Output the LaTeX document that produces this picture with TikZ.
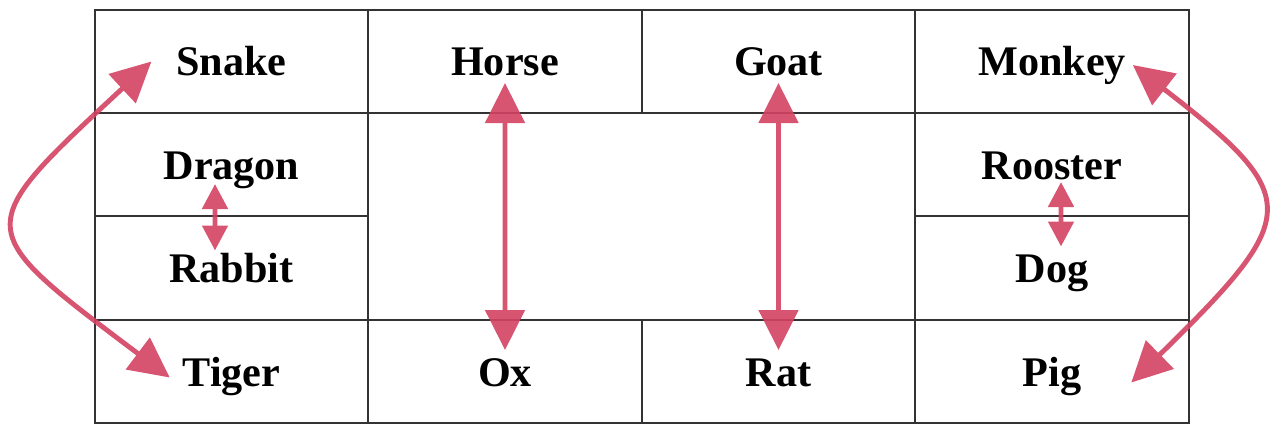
\documentclass[tikz,border=0pt]{standalone}
\usepackage{fontspec}
\setmainfont{Liberation Serif}
\usetikzlibrary{arrows.meta}
\definecolor{zodiacpink}{RGB}{212,66,99}
\tikzset{
	animal/.style={font=\fontsize{12}{14}\selectfont\bfseries, inner sep=0.07cm, outer sep=0pt, text height=0.29cm, text depth=0pt},
	gridline/.style={draw=black!80, line width=0.5pt},
	pair/.style={draw=zodiacpink, line width=1.4pt, {Triangle[length=4mm,width=3.9mm]}-{Triangle[length=4mm,width=3.9mm]}},
	smallpair/.style={pair, {Triangle[length=2.5mm,width=2.5mm]}-{Triangle[length=2.5mm,width=2.5mm]}}
}

\begin{document}
\begin{tikzpicture}
	\useasboundingbox (0,0) rectangle (12.8,4.24);
	% Grid
	\draw[gridline] (0.95,0.01) rectangle (11.89,4.14);
	\draw[gridline] (0.95,3.11) -- (11.89,3.11);
	\draw[gridline] (0.95,1.04) -- (11.89,1.04);
	\draw[gridline] (0.95,2.08) -- (3.68,2.08);
	\draw[gridline] (9.15,2.08) -- (11.89,2.08);
	\draw[gridline] (3.68,0.01) -- (3.68,4.14);
	\draw[gridline] (9.15,0.01) -- (9.15,4.14);
	\draw[gridline] (6.42,3.11) -- (6.42,4.14);
	\draw[gridline] (6.42,0.01) -- (6.42,1.04);
	% Animals
	\node[animal] (snake) at (2.315,3.625) {Snake};
	\node[animal] (horse) at (5.05,3.625) {Horse};
	\node[animal] (goat) at (7.785,3.625) {Goat};
	\node[animal] (monkey) at (10.52,3.625) {Monkey};
	\node[animal] (dragon) at (2.315,2.595) {Dragon};
	\node[animal] (rabbit) at (2.315,1.56) {Rabbit};
	\node[animal] (rooster) at (10.52,2.595) {Rooster};
	\node[animal] (dog) at (10.52,1.56) {Dog};
	\node[animal] (tiger) at (2.315,0.525) {Tiger};
	\node[animal] (ox) at (5.05,0.525) {Ox};
	\node[animal] (rat) at (7.785,0.525) {Rat};
	\node[animal] (pig) at (10.52,0.525) {Pig};
	% Opposite signs
	\begin{scope}[transparency group, opacity=0.9]
		\draw[pair] ([xshift=-1.8mm]snake.west) .. controls +(-1.82,-1.69) and +(-1.99,1.50) .. ([shift={(-0.6mm,-0.6mm)}]tiger.west);
		\draw[pair] ([yshift=-0.35mm]monkey.east) .. controls +(1.717,-1.327) and +(1.697,1.662) .. ([shift={(4.3mm,-1.1mm)}]pig.east);
		\draw[pair] (horse.south) -- (ox.north);
		\draw[pair] (goat.south) -- (rat.north);
		\draw[smallpair] ([shift={(-1.65mm,0.2mm)}]dragon.south) -- ([shift={(-1.65mm,-0.4mm)}]rabbit.north);
		\draw[smallpair] ([shift={(0.9mm,0.4mm)}]rooster.south) -- ([xshift=0.9mm]dog.north);
	\end{scope}
\end{tikzpicture}
\end{document}
